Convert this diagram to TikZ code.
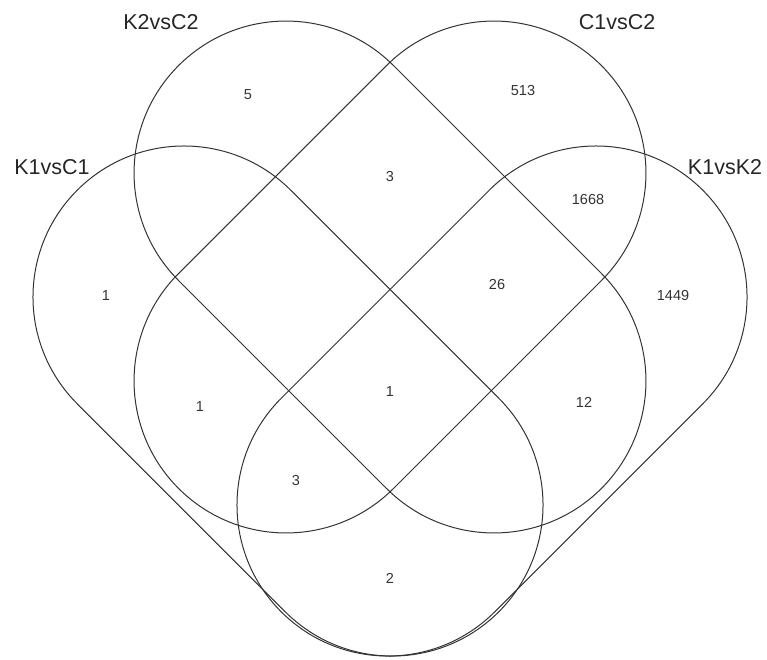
\documentclass[tikz,border=0pt]{standalone}
\usepackage{fontspec}
\setmainfont{Liberation Sans}
\begin{document}
\begin{tikzpicture}[x=1pt,y=1pt,
  setline/.style={draw=black!80, line width=1pt},
  setlabel/.style={text=black!85, font=\fontsize{21.5}{24}\selectfont, inner sep=0pt},
  count/.style={text=black!80, font=\fontsize{14.5}{16}\selectfont, inner sep=0pt}]
\useasboundingbox (0,0) rectangle (767,-659);
% K2vsC2
\begin{scope}[shift={(390,-277)}, rotate=-45]
  \draw[setline] (-147,152) -- (147,152) arc[start angle=90, end angle=-90, radius=152]
    -- (-147,-152) arc[start angle=-90, end angle=-270, radius=152] -- cycle;
\end{scope}
% C1vsC2
\begin{scope}[shift={(390,-277)}, rotate=45]
  \draw[setline] (-147,152) -- (147,152) arc[start angle=90, end angle=-90, radius=152]
    -- (-147,-152) arc[start angle=-90, end angle=-270, radius=152] -- cycle;
\end{scope}
% K1vsC1
\begin{scope}[shift={(288,-401)}, rotate=-45]
  \draw[setline] (-147.1,151) -- (147.1,151) arc[start angle=90, end angle=-90, radius=151]
    -- (-147.1,-151) arc[start angle=-90, end angle=-270, radius=151] -- cycle;
\end{scope}
% K1vsK2
\begin{scope}[shift={(492,-401)}, rotate=45]
  \draw[setline] (-147.1,151) -- (147.1,151) arc[start angle=90, end angle=-90, radius=151]
    -- (-147.1,-151) arc[start angle=-90, end angle=-270, radius=151] -- cycle;
\end{scope}
% set labels
\node[setlabel] (lK2C2) at (161,-22) {K2vsC2};
\node[setlabel] (lC1C2) at (617,-22) {C1vsC2};
\node[setlabel] (lK1C1) at (52,-167) {K1vsC1};
\node[setlabel] (lK1K2) at (725,-167) {K1vsK2};
% counts
\node[count] (n5) at (248,-95) {5};
\node[count] (n513) at (523,-91) {513};
\node[count] (n3a) at (390,-177) {3};
\node[count] (n1668) at (588,-200) {1668};
\node[count] (n1a) at (106,-296) {1};
\node[count] (n26) at (497,-285) {26};
\node[count] (n1449) at (673,-296) {1449};
\node[count] (n1b) at (200,-407) {1};
\node[count] (n1c) at (390,-392) {1};
\node[count] (n12) at (584,-402) {12};
\node[count] (n3b) at (296,-480) {3};
\node[count] (n2) at (390,-578) {2};
\end{tikzpicture}
\end{document}
